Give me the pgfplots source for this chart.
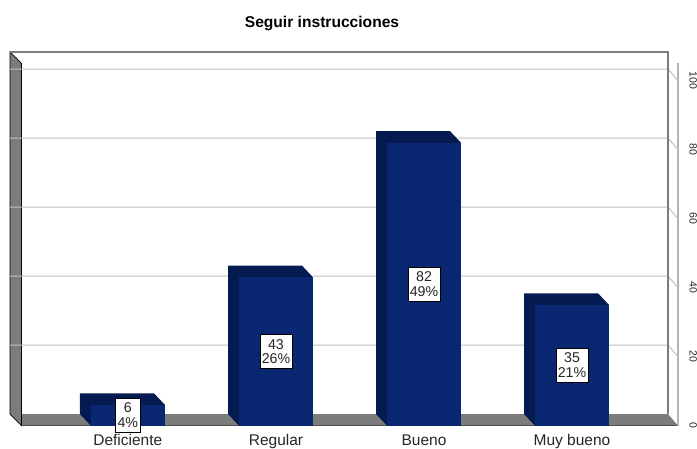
\documentclass[border=0pt]{standalone}
\usepackage{fontspec}
\setmainfont{Liberation Sans}
\usepackage{pgfplots}
\pgfplotsset{compat=1.18}
\definecolor{barfront}{HTML}{0A2771}
\definecolor{barside}{HTML}{051A50}
\definecolor{wall}{HTML}{7C7C7C}
\definecolor{gridc}{HTML}{C0C0C0}
\definecolor{axisc}{HTML}{B4B4B4}
\begin{document}
\begin{tikzpicture}[x=1pt,y=1pt]
\path[use as bounding box] (0,0) rectangle (697,448);
\begin{axis}[
  at={(21.5pt,22.3pt)}, anchor=south west,
  scale only axis, width=656.5pt, height=362.25pt,
  xmin=21.5, xmax=678, ymin=0, ymax=105,
  clip=false,
  axis x line=bottom, axis y line=right,
  axis line style={-},
  x axis line style={black,line width=1pt},
  y axis line style={axisc,line width=1.2pt},
  xtick={127.8,276,424,572},
  xticklabels={Deficiente,Regular,Bueno,Muy bueno},
  ytick={0,20,40,60,80,100},
  major tick length=0pt,
  tick style={draw=none},
  /pgf/number format/assume math mode=true,
  xticklabel style={font=\fontsize{15.5}{15}\selectfont,color=black!85,anchor=base,yshift=-20pt},
  yticklabel style={font=\fontsize{10.5}{10}\selectfont,color=black!85,rotate=-90,anchor=center,yshift=15.2pt},
  every node near coord/.style={anchor=center,draw=black,line width=0.7pt,fill=white,
     font=\fontsize{14.2}{14.6}\selectfont,text=black!85,align=center,inner xsep=1.8pt,inner ysep=4.4pt},
]
% walls
\addplot[fill=white,draw=none] coordinates {(10,108.39) (668,108.39) (668,3.39) (10,3.39)} -- cycle;
\addplot[fill=wall,draw=black,line width=0.7pt] coordinates {(10,108.39) (21.5,105) (21.5,0) (10,3.39)} -- cycle;
\addplot[fill=wall,draw=none] coordinates {(21.5,3.39) (668,3.39) (678,0) (21.5,0)} -- cycle;
\addplot[black,line width=0.5pt] coordinates {(21.5,3.39) (21.5,0)};
% grid on the back wall
\addplot[gridc,line width=1pt] coordinates {(10,23.39) (668,23.39) (678,20)};
\addplot[gridc,line width=1pt] coordinates {(10,43.39) (668,43.39) (678,40)};
\addplot[gridc,line width=1pt] coordinates {(10,63.39) (668,63.39) (678,60)};
\addplot[gridc,line width=1pt] coordinates {(10,83.39) (668,83.39) (678,80)};
\addplot[gridc,line width=1pt] coordinates {(10,103.39) (668,103.39) (678,100)};
\addplot[wall,line width=1.8pt] coordinates {(10,108.39) (668,108.39) (668,3.39)};
% bars
\addplot[fill=barside,draw=none] coordinates {(79.8,3.39) (79.8,9.39) (154,9.39) (165,6) (90.8,6) (90.8,0)} -- cycle;
\addplot[fill=barside,draw=none] coordinates {(228,3.39) (228,46.39) (302,46.39) (313,43) (239,43) (239,0)} -- cycle;
\addplot[fill=barside,draw=none] coordinates {(376,3.39) (376,85.39) (450,85.39) (461,82) (387,82) (387,0)} -- cycle;
\addplot[fill=barside,draw=none] coordinates {(524,3.39) (524,38.39) (598,38.39) (609,35) (535,35) (535,0)} -- cycle;
\addplot[fill=barfront,draw=none] coordinates {(90.8,0) (90.8,6) (165,6) (165,0)} -- cycle;
\addplot[fill=barfront,draw=none] coordinates {(239,0) (239,43) (313,43) (313,0)} -- cycle;
\addplot[fill=barfront,draw=none] coordinates {(387,0) (387,82) (461,82) (461,0)} -- cycle;
\addplot[fill=barfront,draw=none] coordinates {(535,0) (535,35) (609,35) (609,0)} -- cycle;
% labels
\addplot[draw=none,mark=none,point meta=explicit symbolic,nodes near coords] coordinates {
 (127.8,3) [6\\4\%]
 (276,21.5) [43\\26\%]
 (424,41) [82\\49\%]
 (572,17.5) [35\\21\%]
};
\end{axis}
\node[font=\bfseries\fontsize{15.6}{16}\selectfont,text=black] at (322,424.5) {Seguir instrucciones};
\end{tikzpicture}
\end{document}
